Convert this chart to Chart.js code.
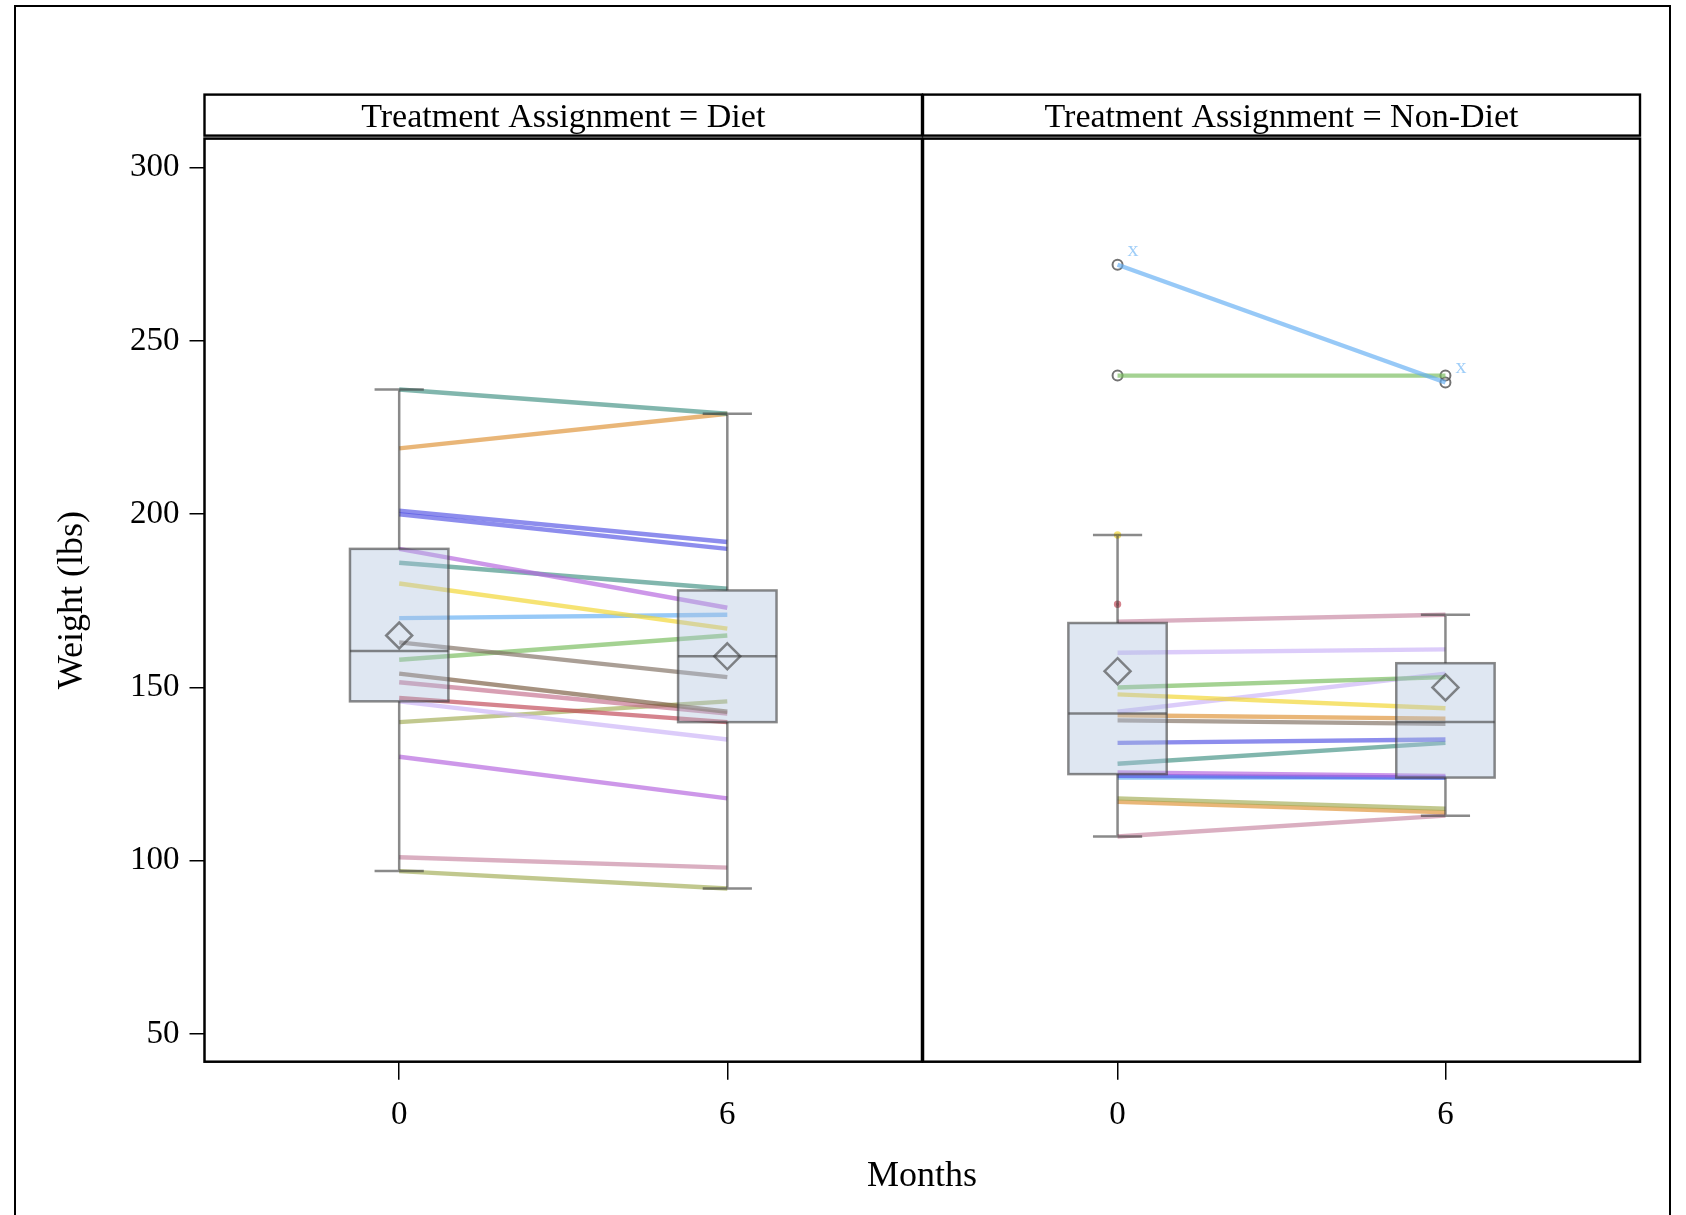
<!DOCTYPE html>
<html>
<head>
<meta charset="utf-8">
<script src="https://cdn.jsdelivr.net/npm/chart.js@4/dist/chart.umd.min.js"></script>
<style>
  html, body { margin: 0; padding: 0; background: #fff; width: 1686px; height: 1215px; overflow: hidden; }
  #frame { position: absolute; left: 14px; top: 5px; width: 1657px; height: 1300px; border: 2px solid #000; box-sizing: border-box; }
  #cL { position: absolute; left: 0; top: 0; }
  #cR { position: absolute; left: 921px; top: 0; }
  #months { position: absolute; left: 722px; width: 400px; top: 1152px; text-align: center;
            font-family: "Liberation Serif", "Times New Roman", serif; font-size: 36px; line-height: 44px; color: #000; }
</style>
</head>
<body>
<div id="frame"></div>
<canvas id="cL" width="924" height="1215"></canvas>
<canvas id="cR" width="721" height="1215"></canvas>
<div id="months">Months</div>
<script>
// ---------------- data ----------------
const months = [0, 6];
const yTickValues = [50, 100, 150, 200, 250, 300];
const panelTitles = ['Treatment Assignment = Diet', 'Treatment Assignment = Non-Diet'];
const yAxisTitle = 'Weight (lbs)';

// Diet: one line per subject, weight at month 0 and month 6
const dietWeight0 = [236, 219, 201, 200, 190, 186, 180, 170, 163, 158, 154, 151.5, 147, 146, 140, 130, 101, 97];
const dietWeight6 = [229, 229, 192, 190, 173, 178.5, 167, 171, 153, 165, 143, 142.5, 140, 135, 146, 118, 98, 92];
const dietColorKeys = ['teal', 'orange', 'blueviolet', 'blueviolet', 'orchid', 'teal', 'yellow', 'lightblue',
  'graybrown', 'green', 'brown', 'mauve', 'red', 'lavender', 'olive', 'orchid', 'pink', 'olive'];

// Non-Diet
const nonDietWeight0 = [272, 240, 194, 174, 169, 160, 150, 148, 143, 142, 140.5, 134, 128, 125.5, 124.5, 124, 118, 117, 107];
const nonDietWeight6 = [238, 240, null, null, 171, 161, 153, 144, 154, 141, 139.5, 135, 134, 124.5, 124, 124, 115, 114, 113];
const nonDietColorKeys = ['lightblue', 'green', 'yellow', 'red', 'pink', 'lavender', 'green', 'yellow', 'lavender',
  'orange', 'graybrown', 'blueviolet', 'teal', 'orchid', 'blueviolet', 'lightblue', 'olive', 'orange', 'pink'];

// Box statistics per month (0, 6)
const dietBoxMin    = [97, 92];
const dietBoxQ1     = [146, 140];
const dietBoxMedian = [160.5, 159];
const dietBoxQ3     = [190, 178];
const dietBoxMax    = [236, 229];
const dietBoxMean   = [165, 159];

const nonDietBoxMin    = [107, 113];
const nonDietBoxQ1     = [125, 124];
const nonDietBoxMedian = [142.5, 140];
const nonDietBoxQ3     = [168.6, 157];
const nonDietBoxMax    = [194, 171];
const nonDietBoxMean   = [154.7, 150];

// Outliers
const dietOutlierMonth = [];
const dietOutlierWeight = [];
const dietOutlierLabel = [];
const nonDietOutlierMonth  = [0, 0, 6, 6];
const nonDietOutlierWeight = [272, 240, 240, 238];
const nonDietOutlierLabel  = ['x', '', '', 'x'];

// ---------------- styles ----------------
const SERIF = '"Liberation Serif", "Times New Roman", serif';
const LINE_ALPHA = 0.66;
const palette = {
  teal: [64, 144, 131], orange: [222, 144, 50], blueviolet: [82, 82, 228], orchid: [179, 97, 221],
  yellow: [242, 213, 42], lightblue: [97, 173, 243], graybrown: [126, 110, 96], green: [117, 186, 90],
  red: [191, 68, 83], lavender: [202, 177, 248], olive: [161, 172, 83], pink: [199, 133, 161],
  brown: [120, 90, 62], mauve: [196, 110, 140]
};
const rgba = (k, a) => `rgba(${palette[k][0]},${palette[k][1]},${palette[k][2]},${a})`;
const BOX_FILL = 'rgba(170,193,220,0.38)';
const BOX_STROKE = 'rgba(60,60,60,0.6)';
const BOX_HALF = 0.9;   // months
const CAP_HALF = 0.45;  // months
const X_MIN = -3.56, X_MAX = 9.56, Y_MIN = 42.0, Y_MAX = 308.4;

function lineDatasets(w0, w6, keys) {
  return w0.map((v, i) => ({
    data: [{x: months[0], y: v}, {x: months[1], y: w6[i]}],
    showLine: true,
    borderColor: rgba(keys[i], LINE_ALPHA),
    backgroundColor: rgba(keys[i], LINE_ALPHA),
    borderWidth: 4.4,
    pointRadius: w6[i] === null ? 1.5 : 0,
    pointHoverRadius: 0,
    spanGaps: false
  }));
}

function outlierDataset(mo, wt) {
  return {
    data: mo.map((m, i) => ({x: m, y: wt[i]})),
    showLine: false,
    pointStyle: 'circle',
    pointRadius: 5,
    pointHoverRadius: 0,
    pointBorderWidth: 2,
    pointBorderColor: 'rgba(80,80,80,0.8)',
    pointBackgroundColor: 'rgba(0,0,0,0)'
  };
}

function makePanelPlugin(st, outMo, outWt, outLbl) {
  return {
    id: 'panelDecor',
    afterDatasetsDraw(chart) {
      const {ctx, scales: {x, y}} = chart;
      ctx.save();
      ctx.lineWidth = 2.5;
      ctx.strokeStyle = BOX_STROKE;
      for (let i = 0; i < months.length; i++) {
        const cx = x.getPixelForValue(months[i]);
        const hw = x.getPixelForValue(months[i] + BOX_HALF) - cx;
        const cw = x.getPixelForValue(months[i] + CAP_HALF) - cx;
        const yMin = y.getPixelForValue(st.min[i]);
        const yQ1 = y.getPixelForValue(st.q1[i]);
        const yMed = y.getPixelForValue(st.median[i]);
        const yQ3 = y.getPixelForValue(st.q3[i]);
        const yMax = y.getPixelForValue(st.max[i]);
        const yMean = y.getPixelForValue(st.mean[i]);
        // whiskers
        ctx.beginPath();
        ctx.moveTo(cx, yQ3); ctx.lineTo(cx, yMax);
        ctx.moveTo(cx - cw, yMax); ctx.lineTo(cx + cw, yMax);
        ctx.moveTo(cx, yQ1); ctx.lineTo(cx, yMin);
        ctx.moveTo(cx - cw, yMin); ctx.lineTo(cx + cw, yMin);
        ctx.stroke();
        // box
        ctx.fillStyle = BOX_FILL;
        ctx.fillRect(cx - hw, yQ3, 2 * hw, yQ1 - yQ3);
        ctx.strokeRect(cx - hw, yQ3, 2 * hw, yQ1 - yQ3);
        // median
        ctx.beginPath();
        ctx.moveTo(cx - hw, yMed); ctx.lineTo(cx + hw, yMed);
        ctx.stroke();
        // mean diamond
        const d = 13;
        ctx.beginPath();
        ctx.moveTo(cx, yMean - d); ctx.lineTo(cx + d, yMean); ctx.lineTo(cx, yMean + d); ctx.lineTo(cx - d, yMean);
        ctx.closePath();
        ctx.stroke();
      }
      // outlier labels
      ctx.fillStyle = rgba('lightblue', 0.6);
      ctx.font = '22px ' + SERIF;
      ctx.textAlign = 'left';
      ctx.textBaseline = 'middle';
      for (let i = 0; i < outMo.length; i++) {
        if (!outLbl[i]) continue;
        ctx.fillText(outLbl[i], x.getPixelForValue(outMo[i]) + 10, y.getPixelForValue(outWt[i]) - 15);
      }
      ctx.restore();
    },
    afterDraw(chart) {
      const {ctx, chartArea: a} = chart;
      ctx.save();
      ctx.strokeStyle = '#000';
      ctx.lineWidth = 2.5;
      ctx.strokeRect(a.left, a.top, a.right - a.left, a.bottom - a.top);
      const t = chart.titleBlock;
      ctx.lineWidth = 2.4;
      ctx.strokeRect(a.left, t.top, a.right - a.left, a.top - 3 - t.top);
      ctx.restore();
    }
  };
}

function xScale() {
  return {
    type: 'linear', min: X_MIN, max: X_MAX,
    afterBuildTicks: s => { s.ticks = months.map(v => ({value: v})); },
    afterFit: s => { s.height = 1215 - 1061.7; s.paddingLeft = 0; s.paddingRight = 0; },
    grid: {display: true, drawOnChartArea: false, drawTicks: true, tickLength: 18, color: '#000', lineWidth: 1.5},
    border: {display: false},
    ticks: {font: {family: SERIF, size: 33}, color: '#000', padding: 16, maxRotation: 0}
  };
}

function makeChart(id, title, lineSets, outSet, plugin, showY, pad) {
  return new Chart(document.getElementById(id), {
    type: 'scatter',
    data: {datasets: [...lineSets, outSet]},
    options: {
      responsive: false, animation: false, devicePixelRatio: 1,
      layout: {autoPadding: false, padding: {top: 94.6, left: pad[0], right: pad[1], bottom: 0}},
      plugins: {
        legend: {display: false}, tooltip: {enabled: false},
        title: {display: true, text: title, fullSize: false, color: '#000',
                font: {family: SERIF, size: 34, weight: 'normal', lineHeight: 1.2}, padding: {top: 3.2, bottom: 0}}
      },
      scales: {
        x: xScale(),
        y: {
          display: showY, min: Y_MIN, max: Y_MAX,
          afterBuildTicks: s => { s.ticks = yTickValues.map(v => ({value: v})); },
          afterFit: s => { s.width = showY ? 204.5 : 0; },
          grid: {display: true, drawOnChartArea: false, drawTicks: true, tickLength: 15, color: '#000', lineWidth: 1.5},
          border: {display: false},
          ticks: {font: {family: SERIF, size: 33}, color: '#000', padding: 10},
          title: {display: true, text: yAxisTitle, color: '#000', font: {family: SERIF, size: 36, lineHeight: 1.2}, padding: {top: 51}}
        }
      }
    },
    plugins: [plugin]
  });
}

makeChart('cL', panelTitles[0],
  lineDatasets(dietWeight0, dietWeight6, dietColorKeys),
  outlierDataset(dietOutlierMonth, dietOutlierWeight),
  makePanelPlugin({min: dietBoxMin, q1: dietBoxQ1, median: dietBoxMedian, q3: dietBoxQ3, max: dietBoxMax, mean: dietBoxMean},
    dietOutlierMonth, dietOutlierWeight, dietOutlierLabel),
  true, [0, 2]);

makeChart('cR', panelTitles[1],
  lineDatasets(nonDietWeight0, nonDietWeight6, nonDietColorKeys),
  outlierDataset(nonDietOutlierMonth, nonDietOutlierWeight),
  makePanelPlugin({min: nonDietBoxMin, q1: nonDietBoxQ1, median: nonDietBoxMedian, q3: nonDietBoxQ3, max: nonDietBoxMax, mean: nonDietBoxMean},
    nonDietOutlierMonth, nonDietOutlierWeight, nonDietOutlierLabel),
  false, [2, 2]);
</script>
</body>
</html>
